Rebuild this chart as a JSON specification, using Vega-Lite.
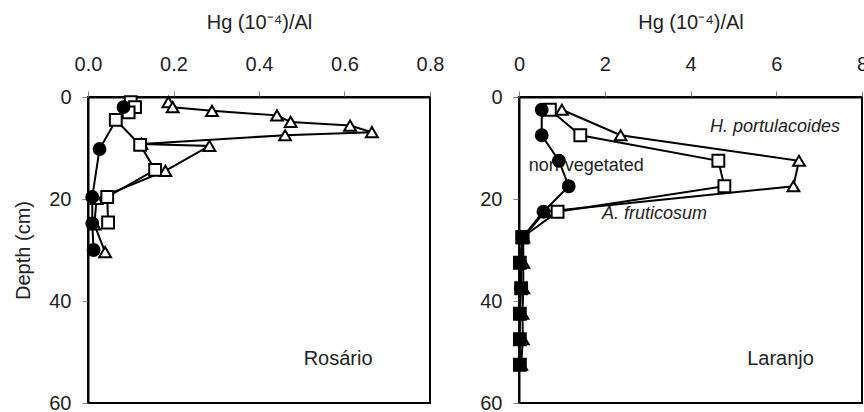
{
  "$schema": "https://vega.github.io/schema/vega-lite/v6.json",
  "padding": {"left": 12, "top": 11, "right": 0, "bottom": 0},
  "background": "white",
  "spacing": 33,
  "config": {
    "font": "Liberation Sans",
    "view": {"stroke": "black", "strokeWidth": 2},
    "axis": {
      "labelFont": "Liberation Sans", "labelFontSize": 20, "labelColor": "#222", "labelFlush": false,
      "titleFont": "Liberation Sans", "titleFontSize": 20, "titleFontWeight": "normal", "titleColor": "#222",
      "domainColor": "black", "domainWidth": 2, "tickColor": "#888", "tickSize": 6, "grid": false
    }
  },
  "hconcat": [
    {
      "width": 342, "height": 306,
      "encoding": {
        "x": {"field": "hg", "type": "quantitative", "scale": {"domain": [0, 0.8], "nice": false, "zero": false, "padding": 0}},
        "y": {"field": "depth", "type": "quantitative", "scale": {"domain": [0, 60], "reverse": true, "nice": false, "zero": false, "padding": 0}}
      },
      "layer": [
        {
          "data": {"values": [{"hg": 0.585, "depth": 51.4, "label": "Rosário"}]},
          "mark": {"type": "text", "fontSize": 20, "color": "#222", "align": "center", "baseline": "middle"},
          "encoding": {
            "text": {"field": "label"}
          }
        },
        {
          "data": {"name": "ros"},
          "mark": {"type": "line", "color": "black", "strokeWidth": 2},
          "encoding": {
            "detail": {"field": "series"},
            "order": {"field": "depth", "type": "quantitative"}
          }
        },
        {
          "data": {"name": "ros"},
          "mark": {"type": "point", "filled": true, "size": 140, "stroke": "black", "strokeWidth": 2, "opacity": 1},
          "encoding": {
            "x": {"field": "hg", "type": "quantitative",
              "axis": {"orient": "top", "values": [0, 0.2, 0.4, 0.6, 0.8], "format": ".1f", "title": "Hg (10⁻⁴)/Al", "labelPadding": 17, "titlePadding": 22}},
            "y": {"field": "depth", "type": "quantitative",
              "axis": {"values": [0, 20, 40, 60], "title": "Depth (cm)", "labelPadding": 11, "titlePadding": 15}},
            "shape": {"field": "series", "type": "nominal", "legend": null,
              "scale": {"domain": ["nonvegetated", "Afruticosum", "Hportulacoides", "core"], "range": ["circle", "square", "triangle-up", "square"]}},
            "fill": {"field": "series", "type": "nominal", "legend": null,
              "scale": {"domain": ["nonvegetated", "Afruticosum", "Hportulacoides", "core"], "range": ["black", "white", "white", "black"]}}
          }
        }
      ]
    },
    {
      "width": 343, "height": 306,
      "encoding": {
        "x": {"field": "hg", "type": "quantitative", "scale": {"domain": [0, 8], "nice": false, "zero": false, "padding": 0}},
        "y": {"field": "depth", "type": "quantitative", "scale": {"domain": [0, 60], "reverse": true, "nice": false, "zero": false, "padding": 0}}
      },
      "layer": [
        {
          "data": {"values": [
            {"hg": 6.1, "depth": 51.4, "label": "Laranjo", "fs": 20},
            {"hg": 1.57, "depth": 13.6, "label": "non-vegetated", "fs": 18}
          ]},
          "mark": {"type": "text", "color": "#222", "align": "center", "baseline": "middle"},
          "encoding": {
            "text": {"field": "label"},
            "size": {"field": "fs", "type": "quantitative", "scale": null}
          }
        },
        {
          "data": {"values": [
            {"hg": 5.97, "depth": 5.8, "label": "H. portulacoides"},
            {"hg": 3.16, "depth": 23, "label": "A. fruticosum"}
          ]},
          "mark": {"type": "text", "color": "#222", "fontSize": 18, "fontStyle": "italic", "align": "center", "baseline": "middle"},
          "encoding": {
            "text": {"field": "label"}
          }
        },
        {
          "data": {"name": "lar"},
          "mark": {"type": "line", "color": "black", "strokeWidth": 2},
          "encoding": {
            "detail": {"field": "series"},
            "order": {"field": "depth", "type": "quantitative"}
          }
        },
        {
          "data": {"name": "lar"},
          "mark": {"type": "point", "filled": true, "size": 140, "stroke": "black", "strokeWidth": 2, "opacity": 1},
          "encoding": {
            "x": {"field": "hg", "type": "quantitative",
              "axis": {"orient": "top", "values": [0, 2, 4, 6, 8], "format": "d", "title": "Hg (10⁻⁴)/Al", "labelPadding": 17, "titlePadding": 22}},
            "y": {"field": "depth", "type": "quantitative",
              "axis": {"values": [0, 20, 40, 60], "title": null, "labelPadding": 11}},
            "shape": {"field": "series", "type": "nominal", "legend": null,
              "scale": {"domain": ["nonvegetated", "Afruticosum", "Hportulacoides", "core"], "range": ["circle", "square", "triangle-up", "square"]}},
            "fill": {"field": "series", "type": "nominal", "legend": null,
              "scale": {"domain": ["nonvegetated", "Afruticosum", "Hportulacoides", "core"], "range": ["black", "white", "white", "black"]}}
          }
        }
      ]
    }
  ],
  "datasets": {
    "ros": [
      {"series": "Hportulacoides", "depth": 1, "hg": 0.188},
      {"series": "Hportulacoides", "depth": 2, "hg": 0.198},
      {"series": "Hportulacoides", "depth": 2.7, "hg": 0.29},
      {"series": "Hportulacoides", "depth": 3.6, "hg": 0.442},
      {"series": "Hportulacoides", "depth": 4.9, "hg": 0.474},
      {"series": "Hportulacoides", "depth": 5.6, "hg": 0.613},
      {"series": "Hportulacoides", "depth": 6.9, "hg": 0.664},
      {"series": "Hportulacoides", "depth": 7.5, "hg": 0.461},
      {"series": "Hportulacoides", "depth": 9.2, "hg": 0.125},
      {"series": "Hportulacoides", "depth": 9.6, "hg": 0.284},
      {"series": "Hportulacoides", "depth": 14.5, "hg": 0.181},
      {"series": "Hportulacoides", "depth": 20, "hg": 0.02},
      {"series": "Hportulacoides", "depth": 25, "hg": 0.015},
      {"series": "Hportulacoides", "depth": 30.4, "hg": 0.04},
      {"series": "Afruticosum", "depth": 1, "hg": 0.1},
      {"series": "Afruticosum", "depth": 2, "hg": 0.11},
      {"series": "Afruticosum", "depth": 3, "hg": 0.095},
      {"series": "Afruticosum", "depth": 4.5, "hg": 0.065},
      {"series": "Afruticosum", "depth": 9.4, "hg": 0.122},
      {"series": "Afruticosum", "depth": 14.3, "hg": 0.157},
      {"series": "Afruticosum", "depth": 19.6, "hg": 0.045},
      {"series": "Afruticosum", "depth": 24.6, "hg": 0.047},
      {"series": "nonvegetated", "depth": 2, "hg": 0.083},
      {"series": "nonvegetated", "depth": 10.2, "hg": 0.027},
      {"series": "nonvegetated", "depth": 19.6, "hg": 0.01},
      {"series": "nonvegetated", "depth": 24.8, "hg": 0.01},
      {"series": "nonvegetated", "depth": 30, "hg": 0.013}
    ],
    "lar": [
      {"series": "Hportulacoides", "depth": 2.5, "hg": 1.0},
      {"series": "Hportulacoides", "depth": 7.5, "hg": 2.37},
      {"series": "Hportulacoides", "depth": 12.5, "hg": 6.53},
      {"series": "Hportulacoides", "depth": 17.5, "hg": 6.4},
      {"series": "Hportulacoides", "depth": 22.5, "hg": 0.6},
      {"series": "Hportulacoides", "depth": 27.5, "hg": 0.1},
      {"series": "Hportulacoides", "depth": 32.5, "hg": 0.1},
      {"series": "Hportulacoides", "depth": 37.5, "hg": 0.1},
      {"series": "Hportulacoides", "depth": 42.5, "hg": 0.08},
      {"series": "Hportulacoides", "depth": 47.5, "hg": 0.09},
      {"series": "Hportulacoides", "depth": 52.5, "hg": 0.05},
      {"series": "Afruticosum", "depth": 2.5, "hg": 0.72},
      {"series": "Afruticosum", "depth": 7.5, "hg": 1.43},
      {"series": "Afruticosum", "depth": 12.5, "hg": 4.65},
      {"series": "Afruticosum", "depth": 17.5, "hg": 4.79},
      {"series": "Afruticosum", "depth": 22.5, "hg": 0.9},
      {"series": "Afruticosum", "depth": 27.5, "hg": 0.08},
      {"series": "nonvegetated", "depth": 2.5, "hg": 0.53},
      {"series": "nonvegetated", "depth": 7.5, "hg": 0.53},
      {"series": "nonvegetated", "depth": 12.5, "hg": 0.93},
      {"series": "nonvegetated", "depth": 17.5, "hg": 1.16},
      {"series": "nonvegetated", "depth": 22.5, "hg": 0.57},
      {"series": "nonvegetated", "depth": 27.5, "hg": 0.08},
      {"series": "nonvegetated", "depth": 37.5, "hg": 0.04},
      {"series": "core", "depth": 27.5, "hg": 0.08},
      {"series": "core", "depth": 32.5, "hg": 0.02},
      {"series": "core", "depth": 37.5, "hg": 0.05},
      {"series": "core", "depth": 42.5, "hg": 0.02},
      {"series": "core", "depth": 47.5, "hg": 0.02},
      {"series": "core", "depth": 52.5, "hg": 0.02}
    ]
  }
}
